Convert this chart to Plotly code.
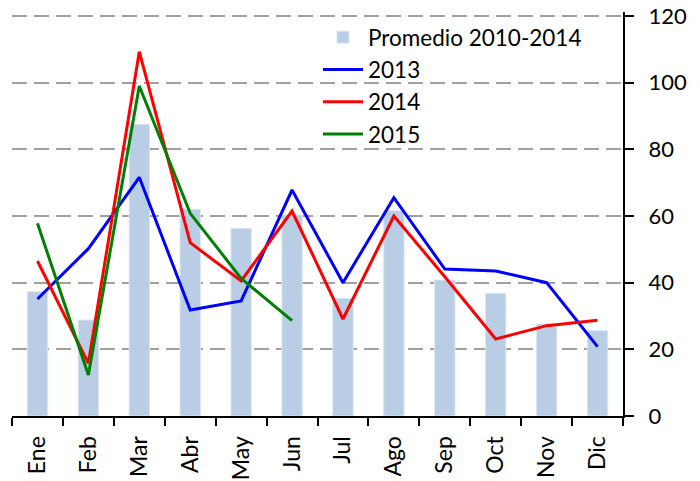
import plotly.graph_objects as go

meses = ["Ene", "Feb", "Mar", "Abr", "May", "Jun", "Jul", "Ago", "Sep", "Oct", "Nov", "Dic"]
promedio = [37.3, 28.8, 87.5, 62.0, 56.3, 60.3, 35.3, 61.6, 40.8, 36.8, 27.6, 25.6]
y2013 = [35.1, 50.2, 71.6, 31.8, 34.5, 67.8, 40.0, 65.5, 44.1, 43.5, 40.0, 20.8]
y2014 = [46.5, 15.8, 109.3, 52.0, 40.5, 61.5, 29.1, 60.0, 41.8, 23.1, 27.1, 28.7]
y2015 = [57.8, 12.3, 99.0, 60.8, 41.3, 28.6]

FONT = "Lato"

fig = go.Figure()
fig.add_trace(go.Bar(x=meses, y=promedio, name="Promedio 2010-2014",
                     marker=dict(color="#B9CDE5", line=dict(color="#DCE6F2", width=1)),
                     width=0.4))
fig.add_trace(go.Scatter(x=meses, y=y2013, name="2013", mode="lines",
                         line=dict(color="#0000FF", width=3)))
fig.add_trace(go.Scatter(x=meses, y=y2014, name="2014", mode="lines",
                         line=dict(color="#FF0000", width=3)))
fig.add_trace(go.Scatter(x=meses[:len(y2015)], y=y2015, name="2015", mode="lines",
                         line=dict(color="#008000", width=3)))

# white panel behind the legend (covers the gridline there, under the data)
fig.add_shape(type="rect", xref="paper", yref="y",
              x0=(282 - 12) / 611, x1=(612 - 12) / 611,
              y0=81, y1=118,
              fillcolor="white", line=dict(width=0), layer="between")

fig.update_layout(
    width=700, height=481,
    margin=dict(l=4, r=85, t=4, b=73, autoexpand=False),
    paper_bgcolor="white", plot_bgcolor="white",
    font=dict(family=FONT, size=23, color="black"),
    showlegend=True,
    legend=dict(x=(318 - 12) / 611, y=0.99, xanchor="left", yanchor="top",
                bgcolor="rgba(0,0,0,0)", borderwidth=0,
                font=dict(family=FONT, size=22.5, color="black"),
                tracegroupgap=0, itemwidth=40, traceorder="normal"),
    bargap=0.6,
)
fig.update_xaxes(
    type="category", showgrid=False, showline=True, linecolor="black", linewidth=2,
    ticks="outside", tickson="boundaries", ticklen=8, tickcolor="black", tickwidth=2,
    tickangle=-90, tickfont=dict(family=FONT, size=23, color="black"),
    ticklabelstandoff=9,
    range=[-0.5, 11.5], automargin=False,
)
fig.update_yaxes(
    side="right", range=[0, 121.2], tickvals=[0, 20, 40, 60, 80, 100, 120],
    showgrid=True, gridcolor="#A0A0A0", gridwidth=2, griddash="15px,7px",
    showline=True, linecolor="black", linewidth=2,
    ticks="outside", ticklen=9, tickcolor="black", tickwidth=2,
    tickfont=dict(family=FONT, size=22, color="black"),
    ticklabelstandoff=10, ticklabeloverflow="allow",
    zeroline=False, automargin=False,
)

fig.write_html("out.html")
